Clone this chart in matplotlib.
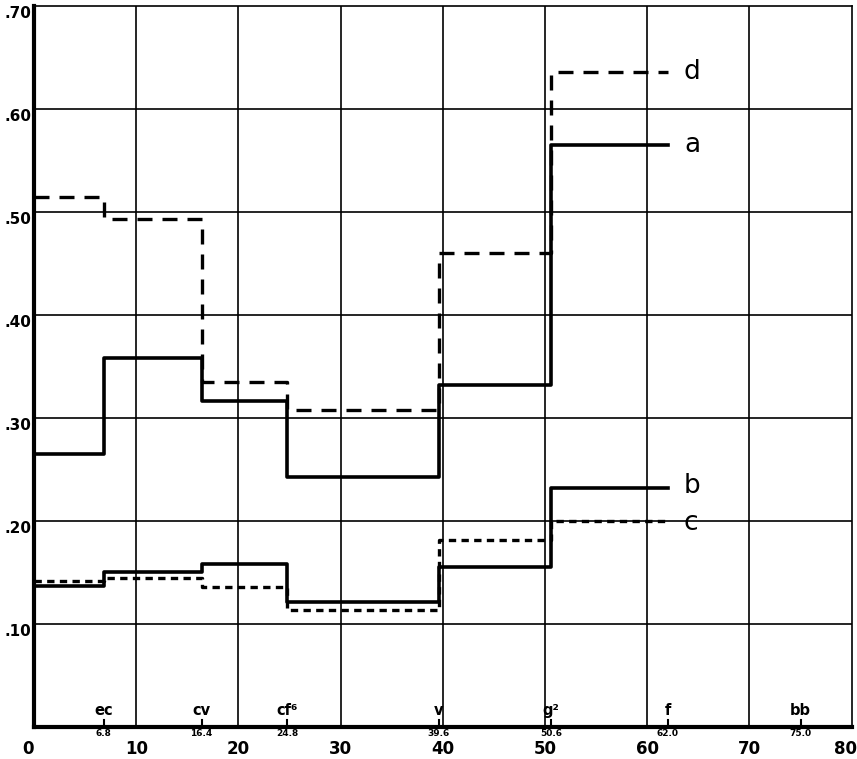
import numpy as np
import matplotlib.pyplot as plt
import matplotlib.transforms as mtransforms

# step boundaries (x) and the four curves
edges = [0, 6.8, 16.4, 24.8, 39.6, 50.6, 62.0]
a_vals = [0.265, 0.358, 0.317, 0.243, 0.332, 0.565]
b_vals = [0.137, 0.151, 0.158, 0.121, 0.155, 0.232]
c_vals = [0.142, 0.145, 0.136, 0.114, 0.182, 0.200]
d_vals = [0.515, 0.493, 0.335, 0.308, 0.460, 0.636]

# markers along the x axis
mark_x = [6.8, 16.4, 24.8, 39.6, 50.6, 62.0, 75.0]
mark_names = ['ec', 'cv', 'cf⁶', 'v', 'g²', 'f', 'bb']
mark_nums = ['6.8', '16.4', '24.8', '39.6', '50.6', '62.0', '75.0']

fig = plt.figure(figsize=(8.57, 7.59), dpi=100)
ax = fig.add_axes([0.0397, 0.042, 0.954, 0.950])

# grid
for gx in range(10, 80, 10):
    ax.axvline(gx, color='black', lw=1.2, zorder=1)
for gy in np.arange(0.1, 0.7, 0.1):
    ax.axhline(gy, color='black', lw=1.2, zorder=1)

def stepline(vals, **kw):
    ax.step(edges, list(vals) + [vals[-1]], where='post', color='black', zorder=3, **kw)

stepline(a_vals, lw=2.6)
stepline(b_vals, lw=2.6)
stepline(c_vals, lw=2.4, dashes=(2.2, 1.6))
stepline(d_vals, lw=2.4, dashes=(4.5, 3))

# curve labels
ax.text(63.6, a_vals[-1], 'a', fontsize=19, va='center', ha='left')
ax.text(63.6, d_vals[-1], 'd', fontsize=19, va='center', ha='left')
ax.text(63.6, b_vals[-1] + 0.002, 'b', fontsize=19, va='center', ha='left')
ax.text(63.6, c_vals[-1] - 0.002, 'c', fontsize=19, va='center', ha='left')

# marker ticks and labels on the bottom axis
for mx, nm, nu in zip(mark_x, mark_names, mark_nums):
    ax.plot([mx, mx], [0, 0.007], color='black', lw=1.5, zorder=4, clip_on=False)
    ax.text(mx, 0.009, nm, fontsize=10.5, fontweight='bold', ha='center', va='bottom')
    ax.text(mx, -0.002, nu, fontsize=6.5, fontweight='bold', ha='center', va='top')

ax.set_xlim(0, 80)
ax.set_ylim(0, 0.70)
ax.set_xticks(range(0, 90, 10))
ax.set_xticklabels([str(v) for v in range(0, 90, 10)], fontsize=12, fontweight='bold')
ax.set_yticks([0.1, 0.2, 0.3, 0.4, 0.5, 0.6, 0.7])
ax.set_yticklabels(['.10', '.20', '.30', '.40', '.50', '.60', '.70'], fontsize=11, fontweight='bold')
ax.tick_params(length=0, pad=2)
ax.tick_params(axis='x', pad=9)

# old plate: y labels sit a little below their grid lines, the 0 a little left
down = mtransforms.ScaledTranslation(0, -6 / 100, fig.dpi_scale_trans)
for lab in ax.get_yticklabels():
    lab.set_transform(lab.get_transform() + down)
xlabs = ax.get_xticklabels()
left = mtransforms.ScaledTranslation(-6 / 100, 0, fig.dpi_scale_trans)
xlabs[0].set_transform(xlabs[0].get_transform() + left)
xlabs[-1].set_transform(xlabs[-1].get_transform() + left)

ax.spines['left'].set_linewidth(3)
ax.spines['bottom'].set_linewidth(3)
ax.spines['top'].set_linewidth(1.2)
ax.spines['right'].set_linewidth(1.2)

plt.savefig('out.png', dpi=100)
